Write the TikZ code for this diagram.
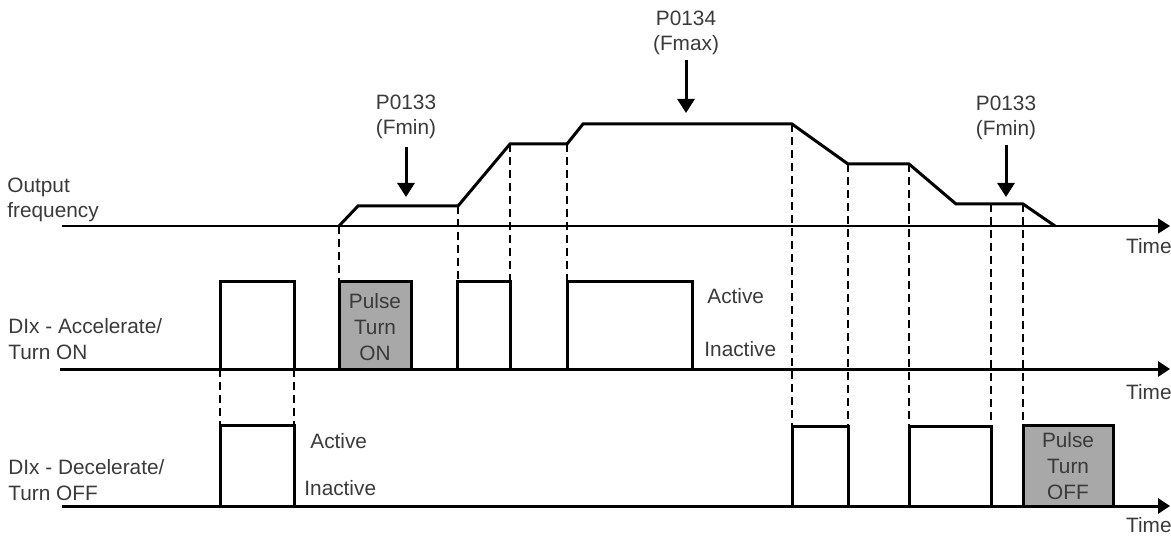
\documentclass[tikz,border=0pt]{standalone}
\usepackage{fontspec}
\setmainfont{Liberation Sans}
\usetikzlibrary{arrows.meta}
\definecolor{txt}{HTML}{3A3A3A}
\definecolor{pulsegray}{HTML}{A8A8A8}
\begin{document}
\begin{tikzpicture}[x=0.5pt,y=-0.5pt,
 lbl/.style={font=\fontsize{10.4}{12.8}\selectfont, text=txt, inner sep=0pt},
 sig/.style={line width=1.5pt, line join=miter},
 axthin/.style={line width=0.8pt, -{Triangle[width=7.5pt,length=6pt]}},
 axthick/.style={line width=1.5pt, -{Triangle[width=7.5pt,length=6pt]}},
 guide/.style={line width=0.75pt, dash pattern=on 4pt off 2.5pt},
 marker/.style={line width=1.5pt, -{Triangle[width=8.5pt,length=7pt]}},
 pulsebox/.style={sig, fill=pulsegray}]
\useasboundingbox (0,0) rectangle (1171,539);

% ---------- dashed guide lines ----------
\draw[guide] (339,226) -- (339,282);
\draw[guide] (458,206) -- (458,282);
\draw[guide] (510,144) -- (510,282);
\draw[guide] (567,144) -- (567,282);
\draw[guide] (220,369) -- (220,425);
\draw[guide] (294,369) -- (294,425);
\draw[guide] (792,124) -- (792,425);
\draw[guide] (848,164) -- (848,425);
\draw[guide] (909,164) -- (909,425);
\draw[guide] (991,204) -- (991,425);
\draw[guide] (1023,204) -- (1023,425);

% ---------- axes ----------
\coordinate (f0) at (62,226);   \coordinate (f1) at (1170,226);
\coordinate (a0) at (60,369);   \coordinate (a1) at (1170,369);
\coordinate (d0) at (62,506);   \coordinate (d1) at (1170,506);
\draw[axthin] (f0) -- (f1);
\draw[axthick] (a0) -- (a1);
\draw[axthick] (d0) -- (d1);

% ---------- output frequency profile ----------
\draw[sig] (339,226) -- (358,206) -- (458,206) -- (510,144) -- (567,144)
  -- (583,124) -- (792,124) -- (848,164) -- (909,164) -- (956,204)
  -- (1023,204) -- (1055,226);

% ---------- accelerate pulses ----------
\draw[sig] (220,369) -- (220,282) -- (294,282) -- (294,369);
\draw[pulsebox] (339,369) rectangle (411,282);
\node[lbl, align=center] (pon) at (375,327) {Pulse\\Turn\\ON};
\draw[sig] (457,369) -- (457,282) -- (510,282) -- (510,369);
\draw[sig] (567,369) -- (567,282) -- (692,282) -- (692,369);

% ---------- decelerate pulses ----------
\draw[sig] (220,506) -- (220,425) -- (294,425) -- (294,506);
\draw[sig] (792,506) -- (792,426) -- (848,426) -- (848,506);
\draw[sig] (909,506) -- (909,426) -- (991,426) -- (991,506);
\draw[pulsebox] (1023,506) rectangle (1113,425);
\node[lbl, align=center] (poff) at (1068,466) {Pulse\\Turn\\OFF};

% ---------- parameter markers ----------
\node[lbl, align=center] (pmin1) at (406,117) {P0133\\(Fmin)};
\coordinate (m1s) at (406,147); \coordinate (m1e) at (406,197);
\draw[marker] (m1s) -- (m1e);
\node[lbl, align=center] (pmax) at (686,33) {P0134\\(Fmax)};
\coordinate (m2s) at (686,60); \coordinate (m2e) at (686,113);
\draw[marker] (m2s) -- (m2e);
\node[lbl, align=center] (pmin2) at (1006,118) {P0133\\(Fmin)};
\coordinate (m3s) at (1006,145); \coordinate (m3e) at (1006,197);
\draw[marker] (m3s) -- (m3e);

% ---------- labels ----------
\node[lbl, anchor=west, align=left] (lf) at (7,200) {Output\\frequency};
\node[lbl, anchor=west, align=left] (la) at (8,339) {DIx - Accelerate/\\Turn ON};
\node[lbl, anchor=west, align=left] (ld) at (8,480) {DIx - Decelerate/\\Turn OFF};
\node[lbl, anchor=west] (act1) at (707,296) {Active};
\node[lbl, anchor=west] (ina1) at (704,349) {Inactive};
\node[lbl, anchor=west] (act2) at (310,441) {Active};
\node[lbl, anchor=west] (ina2) at (304,488) {Inactive};
\node[lbl, anchor=east] (t1) at (1172,246) {Time};
\node[lbl, anchor=east] (t2) at (1172,392) {Time};
\node[lbl, anchor=east] (t3) at (1172,525) {Time};
\end{tikzpicture}
\end{document}
